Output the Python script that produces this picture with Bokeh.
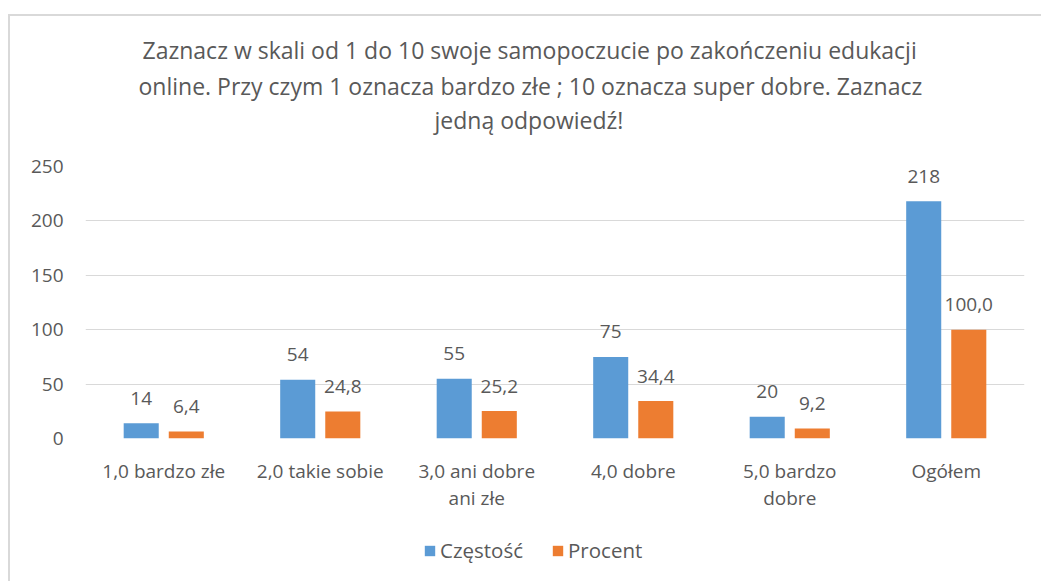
from bokeh.plotting import figure
from bokeh.layouts import column
from bokeh.models import (FactorRange, Range1d, ColumnDataSource, LabelSet, Title,
                          Legend, LegendItem, SingleIntervalTicker)
from bokeh.core.properties import value
from bokeh.transform import dodge
from bokeh.embed import file_html
from bokeh.resources import INLINE

categories = ["1,0 bardzo złe", "2,0 takie sobie", "3,0 ani dobre\nani złe",
              "4,0 dobre", "5,0 bardzo\ndobre", "Ogółem"]
czestosc = [14, 54, 55, 75, 20, 218]
procent = [6.4, 24.8, 25.2, 34.4, 9.2, 100.0]
series_names = ["Częstość", "Procent"]
title_lines = ["Zaznacz w skali od 1 do 10 swoje samopoczucie po zakończeniu edukacji",
               "online. Przy czym 1 oznacza bardzo złe ; 10 oznacza super dobre. Zaznacz",
               "jedną odpowiedź!"]

FONT = "Open Sans"
TXT = "#595959"
BLUE = "#5b9bd5"
ORANGE = "#ed7d31"
GRID = "#d9d9d9"

src = ColumnDataSource(dict(
    x=categories,
    c=czestosc,
    p=procent,
    cl=[str(v) for v in czestosc],
    pl=[f"{v:.1f}".replace(".", ",") for v in procent],
))

p = figure(x_range=FactorRange(*categories, range_padding=0),
           y_range=Range1d(0, 250),
           width=1031, height=509,
           output_backend="svg", toolbar_location=None,
           title_location=None,
           min_border_left=75, min_border_right=17,
           min_border_top=150, min_border_bottom=87)
p.outline_line_color = None
p.background_fill_color = "white"
p.border_fill_color = "white"

bw = 0.224
off = 0.144
p.vbar(x=dodge("x", -off, range=p.x_range), top="c", width=bw, source=src,
       fill_color=BLUE, line_color=None)
p.vbar(x=dodge("x", off, range=p.x_range), top="p", width=bw, source=src,
       fill_color=ORANGE, line_color=None)

for col, lab, d in (("c", "cl", -off), ("p", "pl", off)):
    ls = LabelSet(x=dodge("x", d, range=p.x_range), y=col, text=lab, source=src,
                  text_align="center", text_baseline="middle", y_offset=25,
                  text_font=value(FONT), text_font_size=value("19px"),
                  text_color=value(TXT))
    p.add_layout(ls)

# grid / axes
p.xgrid.grid_line_color = None
p.ygrid.grid_line_color = GRID
p.ygrid.grid_line_width = 1
p.yaxis.ticker = SingleIntervalTicker(interval=50)
for ax in (p.xaxis, p.yaxis):
    ax.axis_line_color = None
    ax.major_tick_line_color = None
    ax.minor_tick_line_color = None
    ax.major_label_text_font = FONT
    ax.major_label_text_font_size = "19px"
    ax.major_label_text_color = TXT
p.yaxis.major_label_standoff = 16
p.xaxis.major_label_standoff = 13
p.xaxis.major_label_text_line_height = 1.04

# titles, nearest to frame first (a spacer, then line 3, 2, 1)
p.add_layout(Title(text=" ", text_font_size="1px", standoff=28), "above")
title_offsets = [349, 53, 57]
title_standoffs = [0, 0, 4]
for line, ofs, so in zip(reversed(title_lines), title_offsets, title_standoffs):
    p.add_layout(Title(text=line, align="left", offset=ofs, standoff=so,
                       text_font=FONT, text_font_size="23px",
                       text_font_style="normal", text_color=TXT), "above")

# legend strip below the chart (its frame is aligned with the chart frame)
lg = figure(width=1031, height=56, x_range=Range1d(0, 1), y_range=Range1d(0, 1),
            output_backend="svg", toolbar_location=None, title_location=None,
            min_border=0, min_border_left=0, min_border_right=0,
            min_border_top=0, min_border_bottom=0)
lg.axis.visible = False
lg.grid.visible = False
lg.outline_line_color = None
lg.border_fill_color = "white"
# one off-range point per series so that the legend swatches are drawn
hidden = ColumnDataSource(dict(x=[-10.0], top=[0.0]))
g1 = lg.vbar(x="x", top="top", width=0.1, source=hidden, fill_color=BLUE, line_color=None)
g2 = lg.vbar(x="x", top="top", width=0.1, source=hidden, fill_color=ORANGE, line_color=None)
legend = Legend(items=[LegendItem(label=series_names[0], renderers=[g1]),
                       LegendItem(label=series_names[1], renderers=[g2])],
                orientation="horizontal", location=(338, 17),
                glyph_width=13, glyph_height=13, label_standoff=4, spacing=28,
                padding=0, margin=0, border_line_color=None,
                background_fill_alpha=0,
                label_text_font=FONT, label_text_font_size="20.5px",
                label_text_color=TXT)
lg.add_layout(legend, "center")

layout = column(p, lg, spacing=0, margin=(14, 0, 0, 8),
                styles={"border-top": "2px solid #d9d9d9",
                        "border-left": "2px solid #d9d9d9"})

open("out.html", "w").write(file_html(layout, INLINE))
